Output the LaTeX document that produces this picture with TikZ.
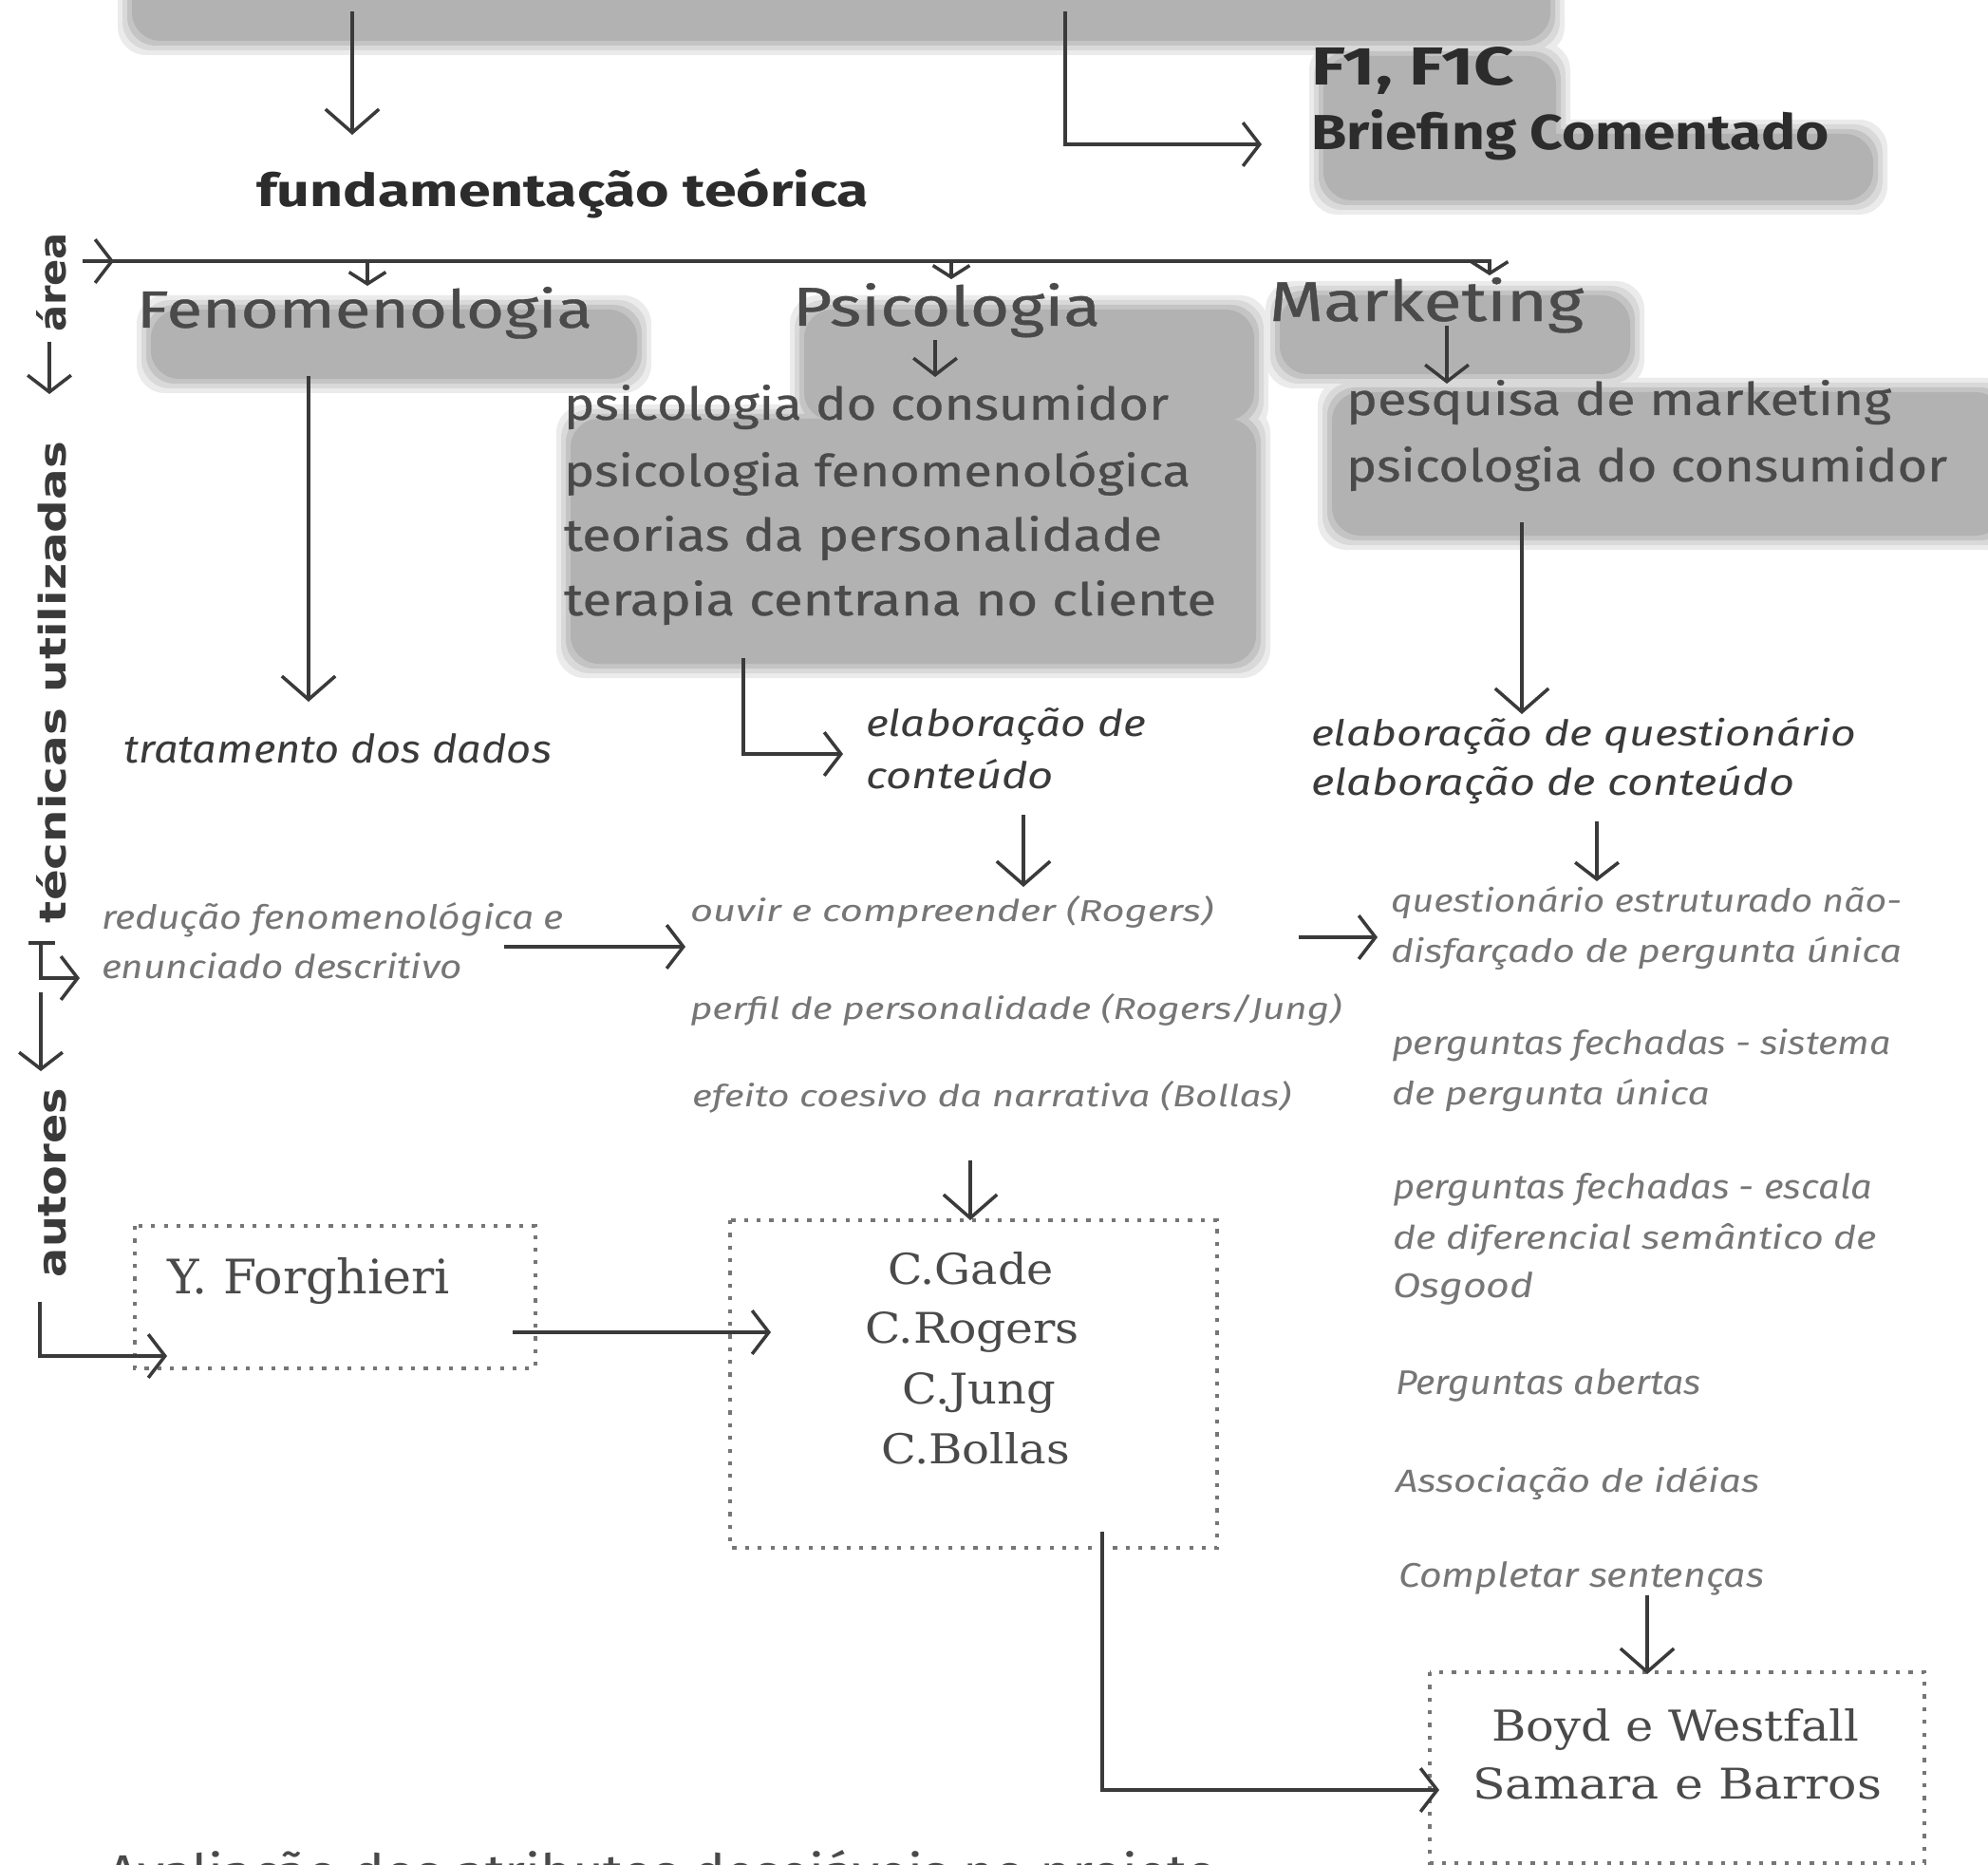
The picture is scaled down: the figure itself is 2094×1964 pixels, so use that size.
\documentclass[tikz,border=0pt]{standalone}
\usepackage{fontspec}
\usepackage{graphicx}
\setmainfont{Fira Sans}
\newfontfamily\medf{Fira Sans}[FakeBold=0.6]
\newfontfamily\serff{DejaVu Serif}
\newfontfamily\labf{DejaVu Sans}
\usetikzlibrary{arrows.meta}
\newlength\pxu \setlength\pxu{0.01cm}
\newcommand\fitt[3]{\resizebox{#1\pxu}{#2\pxu}{#3}}
\definecolor{ink}{HTML}{3A3A3A}
\definecolor{inkd}{HTML}{2C2C2C}
\definecolor{inkm}{HTML}{4A4A4A}
\definecolor{inkl}{HTML}{767676}
\newcommand\bloblist{140/-40/1632/42, 1395/60/1638/200, 1395/142/1972/210,
  160/327/670/398, 848/327/1320/442, 602/442/1322/698,
  1349/312/1716/393, 1404/414/2110/563}
\newcommand\blobs[2]{%
  \foreach \a/\b/\c/\d in \bloblist {%
    \fill[#2, rounded corners=0.3cm] (\a-#1,\b-#1) rectangle (\c+#1,\d+#1);}}
\tikzset{
  txt/.style={inner sep=0pt, outer sep=0pt, anchor=base west},
  ln/.style={draw=ink, line width=1pt},
  bigarr/.style={ln, -{Straight Barb[length=7pt,width=16pt]}},
  medarr/.style={ln, -{Straight Barb[length=5pt,width=13pt]}},
  smlarr/.style={ln, -{Straight Barb[length=3.5pt,width=11pt]}},
  dotbox/.style={draw=inkl, line width=1.1pt, dash pattern=on 1.2pt off 2.6pt},
  head/.style={txt, text=inkm, font=\medf},
  lst/.style={txt, text=inkm, font=\medf},
  itd/.style={txt, text=ink, font=\itshape},
  itl/.style={txt, text=inkl, font=\itshape},
  auth/.style={txt, text=inkm, font=\serff},
  vlab/.style={txt, rotate=90, text=ink, font=\labf\bfseries}
}
\begin{document}
\begin{tikzpicture}[x=0.01cm,y=-0.01cm]
\useasboundingbox (0,0) rectangle (2094,1964);
\clip (0,0) rectangle (2094,1964);
\fill[white] (0,0) rectangle (2094,1964);

% ---- grey smudges (highlighter), soft edges ----
\blobs{16}{black!8}
\blobs{11}{black!15}
\blobs{6}{black!23}
\blobs{1}{black!30}

% ---- headings ----
\node[txt, text=inkd] (fund) at (270,218) {\fitt{645}{40}{\bfseries fundamentação teórica}};
\node[txt, text=inkd] (f1) at (1381,90) {\fitt{214}{40}{\bfseries F1, F1C}};
\node[txt, text=inkd] (brief) at (1381,158) {\fitt{546}{42}{\bfseries Briefing Comentado}};
\node[head] (feno) at (144,345) {\fitt{480}{43}{Fenomenologia}};
\node[head] (psic) at (835,343) {\fitt{324}{45}{Psicologia}};
\node[head] (mark) at (1337,338) {\fitt{331}{46}{Marketing}};

% ---- lists ----
\node[lst] (pl1) at (594,442) {\fitt{637}{37}{psicologia do consumidor}};
\node[lst] (pl2) at (594,512) {\fitt{660}{37}{psicologia fenomenológica}};
\node[lst] (pl3) at (594,580) {\fitt{630}{37}{teorias da personalidade}};
\node[lst] (pl4) at (594,648) {\fitt{687}{37}{terapia centrana no cliente}};
\node[lst] (mk1) at (1418,437) {\fitt{574}{37}{pesquisa de marketing}};
\node[lst] (mk2) at (1418,507) {\fitt{633}{37}{psicologia do consumidor}};

% ---- techniques ----
\node[itd] (trat) at (130,803) {\fitt{451}{31}{tratamento dos dados}};
\node[itd] (ela1) at (912,775) {\fitt{295}{30}{elaboração de}};
\node[itd] (ela2) at (912,830) {\fitt{198}{31}{conteúdo}};
\node[itd] (emq1) at (1381,785) {\fitt{574}{30}{elaboração de questionário}};
\node[itd] (emq2) at (1381,837) {\fitt{509}{31}{elaboração de conteúdo}};

\node[itl] (red1) at (107,978) {\fitt{487}{28}{redução fenomenológica e}};
\node[itl] (red2) at (107,1030) {\fitt{380}{27}{enunciado descritivo}};
\node[itl] (ouv) at (727,970) {\fitt{551}{27}{ouvir e compreender (Rogers)}};
\node[itl] (perf) at (727,1073) {\fitt{686}{27}{perfil de personalidade (Rogers/Jung)}};
\node[itl] (efe) at (729,1165) {\fitt{631}{27}{efeito coesivo da narrativa (Bollas)}};

\node[itl] (q1) at (1465,960) {\fitt{538}{27}{questionário estruturado não-}};
\node[itl] (q2) at (1465,1013) {\fitt{538}{27}{disfarçado de pergunta única}};
\node[itl] (q3) at (1466,1110) {\fitt{526}{27}{perguntas fechadas - sistema}};
\node[itl] (q4) at (1466,1163) {\fitt{335}{27}{de pergunta única}};
\node[itl] (q5) at (1467,1262) {\fitt{505}{27}{perguntas fechadas - escala}};
\node[itl] (q6) at (1467,1315) {\fitt{510}{27}{de diferencial semântico de}};
\node[itl] (q7) at (1467,1366) {\fitt{149}{27}{Osgood}};
\node[itl] (q8) at (1470,1468) {\fitt{322}{27}{Perguntas abertas}};
\node[itl] (q9) at (1470,1571) {\fitt{383}{27}{Associação de idéias}};
\node[itl] (q10) at (1473,1671) {\fitt{385}{27}{Completar sentenças}};

% ---- authors ----
\draw[dotbox] (142,1291) rectangle (564,1441);
\node[auth] (yf) at (176,1362) {\fitt{298}{38}{Y. Forghieri}};
\draw[dotbox] (769,1285) rectangle (1282,1630);
\node[auth] (cg) at (935,1352) {\fitt{175}{34}{C.Gade}};
\node[auth] (cr) at (911,1414) {\fitt{226}{33}{C.Rogers}};
\node[auth] (cj) at (950,1478) {\fitt{162}{33}{C.Jung}};
\node[auth] (cb) at (928,1541) {\fitt{199}{33}{C.Bollas}};
\draw[dotbox] (1506,1761) rectangle (2027,1962);
\node[auth] (bw) at (1571,1833) {\fitt{387}{34}{Boyd e Westfall}};
\node[auth] (sb) at (1551,1894) {\fitt{431}{33}{Samara e Barros}};

% ---- line cut off at the bottom edge (as in the page) ----
\node[txt, text=inkm] (aval) at (113,1990) {\fitt{1169}{42}{Avaliação dos atributos desejáveis no projeto}};

% ---- vertical axis labels ----
\node[vlab] (larea) at (69,350) {\fitt{105}{31}{área}};
\node[vlab] (ltec) at (69,972) {\fitt{507}{31}{técnicas utilizadas}};
\node[vlab] (laut) at (69,1345) {\fitt{199}{29}{autores}};

% ---- coordinates ----
\coordinate (t1a) at (371,12);  \coordinate (t1b) at (371,142);
\coordinate (t2a) at (1122,12); \coordinate (t2b) at (1329,152);
\coordinate (hl0) at (87,275);  \coordinate (hlh) at (120,275);
\coordinate (hl1) at (1569,275); \coordinate (hl2) at (1569,290);
\coordinate (d1a) at (387,275); \coordinate (d1b) at (387,301);
\coordinate (d2a) at (1002,275); \coordinate (d2b) at (1002,294);
\coordinate (psa) at (985,358); \coordinate (psb) at (985,397);
\coordinate (mka) at (1524,343); \coordinate (mkb) at (1524,404);
\coordinate (fna) at (325,396); \coordinate (fnb) at (325,739);
\coordinate (mla) at (1603,550); \coordinate (mlb) at (1603,752);
\coordinate (pLa) at (783,693); \coordinate (pLb) at (888,794);
\coordinate (eoa) at (1078,858); \coordinate (eob) at (1078,934);
\coordinate (eqa) at (1682,865); \coordinate (eqb) at (1682,928);
\coordinate (roa) at (531,997); \coordinate (rob) at (722,997);
\coordinate (oqa) at (1368,987); \coordinate (oqb) at (1451,987);
\coordinate (eca) at (1022,1222); \coordinate (ecb) at (1022,1285);
\coordinate (yca) at (540,1403); \coordinate (ycb) at (812,1403);
\coordinate (cba) at (1161,1613); \coordinate (cbb) at (1516,1885);
\coordinate (csa) at (1735,1680); \coordinate (csb) at (1735,1763);
\coordinate (ara) at (52,360);  \coordinate (arb) at (52,415);
\coordinate (tTa) at (30,993);  \coordinate (tTb) at (58,993);
\coordinate (tTc) at (43,993);  \coordinate (tTd) at (84,1030);
\coordinate (tda) at (43,1045); \coordinate (tdb) at (43,1128);
\coordinate (aua) at (42,1371); \coordinate (aub) at (176,1428);

% ---- connectors ----
\draw[bigarr] (t1a) -- (t1b);
\draw[medarr] (t2a) |- (t2b);
\draw[smlarr] (hl0) -- (hl1) -- (hl2);
\draw[medarr] (hl0) -- (hlh);
\draw[smlarr] (d1a) -- (d1b);
\draw[smlarr] (d2a) -- (d2b);
\draw[medarr] (psa) -- (psb);
\draw[medarr] (mka) -- (mkb);
\draw[bigarr] (fna) -- (fnb);
\draw[bigarr] (mla) -- (mlb);
\draw[medarr] (pLa) |- (pLb);
\draw[bigarr] (eoa) -- (eob);
\draw[medarr] (eqa) -- (eqb);
\draw[medarr] (roa) -- (rob);
\draw[medarr] (oqa) -- (oqb);
\draw[bigarr] (eca) -- (ecb);
\draw[medarr] (yca) -- (ycb);
\draw[medarr] (cba) |- (cbb);
\draw[bigarr] (csa) -- (csb);
\draw[medarr] (ara) -- (arb);
\draw[ln] (tTa) -- (tTb);
\draw[medarr] (tTc) |- (tTd);
\draw[medarr] (tda) -- (tdb);
\draw[medarr] (aua) |- (aub);
\end{tikzpicture}
\end{document}
